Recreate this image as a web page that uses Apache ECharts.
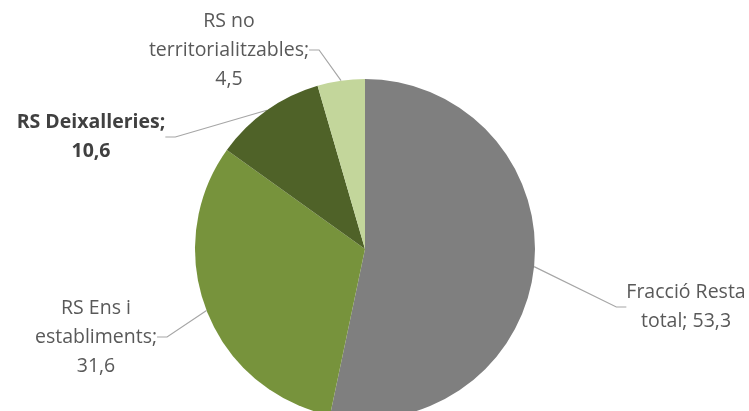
<!DOCTYPE html>
<html>
<head>
<meta charset="utf-8">
<script src="https://cdn.jsdelivr.net/npm/echarts@6/dist/echarts.min.js"></script>
<style>html,body{margin:0;padding:0;background:#fff}#c{width:749px;height:411px}</style>
</head>
<body>
<div id="c"></div>
<script>
const categories = ["Fracció Resta total", "RS Ens i establiments", "RS Deixalleries", "RS no territorialitzables"];
const values = [53.3, 31.6, 10.6, 4.5];
const labelTexts = ["Fracció Resta\ntotal; 53,3", "RS Ens i\nestabliments;\n31,6", "RS Deixalleries;\n10,6", "RS no\nterritorialitzables;\n4,5"];
const colors = ["#7F7F7F", "#77933C", "#4F6228", "#C3D69B"];
const labelCenters = [[686, 307], [96, 337], [91, 137], [229, 50]];
const boldFlags = [false, false, true, false];

const chart = echarts.init(document.getElementById('c'), null, {renderer: 'canvas'});
chart.setOption({
  animation: false,
  series: [{
    type: 'pie',
    center: [365, 249],
    radius: [0, 170],
    startAngle: 90,
    clockwise: true,
    avoidLabelOverlap: false,
    data: categories.map((n, i) => ({
      name: n,
      value: values[i],
      itemStyle: {color: colors[i]},
      label: {
        formatter: labelTexts[i],
        fontWeight: boldFlags[i] ? 'bold' : 'normal',
        color: boldFlags[i] ? '#404040' : '#595959'
      }
    })),
    itemStyle: {borderColor: '#fff', borderWidth: 0},
    label: {
      show: true,
      position: 'outside',
      fontFamily: 'Open Sans',
      fontSize: 19.5,
      lineHeight: 29,
      align: 'center'
    },
    labelLine: {show: true, length: 15, length2: 10, lineStyle: {color: '#A6A6A6', width: 1.2}},
    labelLayout: function (p) {
      const c = labelCenters[p.dataIndex];
      return {x: c[0], y: c[1], align: 'center', verticalAlign: 'middle'};
    }
  }]
});
</script>
</body>
</html>
